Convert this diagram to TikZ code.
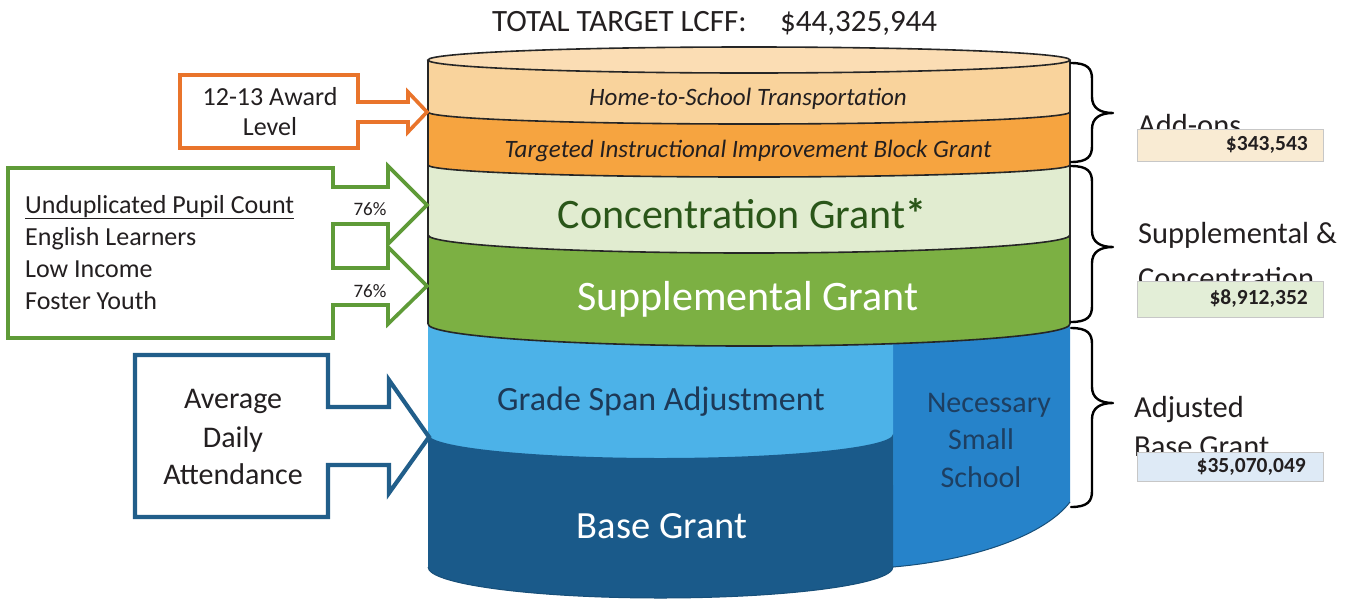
\documentclass[tikz,border=0pt]{standalone}
\usepackage{fontspec}
\setmainfont{Carlito}
\definecolor{topface}{HTML}{FBDDB4}
\definecolor{hts}{HTML}{F9D39C}
\definecolor{tiibg}{HTML}{F6A440}
\definecolor{conc}{HTML}{E1ECD0}
\definecolor{supp}{HTML}{7CB043}
\definecolor{gsa}{HTML}{4CB2E8}
\definecolor{basec}{HTML}{1A5A8A}
\definecolor{nssc}{HTML}{2683CA}
\definecolor{gsatext}{HTML}{1D3957}
\definecolor{conctext}{HTML}{2A5619}
\definecolor{nsstext}{HTML}{1D3F62}
\definecolor{corange}{HTML}{E9742B}
\definecolor{cgreen}{HTML}{5F9B38}
\definecolor{cblue}{HTML}{215E8A}
\definecolor{ink}{HTML}{231F20}
\definecolor{vpeach}{HTML}{F9EBD3}
\definecolor{vgreen}{HTML}{E3EED7}
\definecolor{vblue}{HTML}{DEEAF6}
\newcommand\fsz[1]{\fontsize{#1}{#1}\selectfont}
\newcommand\mybrace[4]{%
  \draw[bracestyle] (1071,-#2) coordinate (#1s)
    .. controls (1088,-#2) and (1092,-#2-6) .. (1092,-#2-16)
    -- (1092,-#3+16) .. controls (1092,-#3+5) and (1100,-#3) .. (1113,-#3) coordinate (#1t)
    .. controls (1100,-#3) and (1092,-#3-5) .. (1092,-#3-16)
    -- (1092,-#4+16) .. controls (1092,-#4+6) and (1088,-#4) .. (1071,-#4) coordinate (#1e);}
\begin{document}
\begin{tikzpicture}[x=1pt,y=1pt,
  edge/.style={draw=black!85, line width=1.6pt},
  bracestyle/.style={draw=black, line width=2.4pt, line cap=round, line join=round},
  callout/.style={fill=white, line width=3.6pt, line join=miter},
  lbl/.style={text=ink, inner sep=0pt},
  vbox/.style={draw=black!22, line width=1pt, inner sep=0pt, anchor=north west, minimum width=186pt},
  vtxt/.style={text=ink, inner sep=0pt, anchor=east, font=\fsz{21.5}\bfseries}]
\useasboundingbox (0,0) rectangle (1348,-600);

% ---- title
\node[lbl, anchor=base west, font=\fsz{31}] (title) at (492,-31) {TOTAL TARGET LCFF:};
\node[lbl, anchor=base west, font=\fsz{31}] (total) at (780,-31) {\$44,325,944};

% ---- lower blue part
\fill[nssc] (428,-324) arc[start angle=180,end angle=360,x radius=321pt,y radius=22pt]
  -- (1070,-502) .. controls (1045,-535) and (975,-560) .. (893,-567) -- (428,-567) -- cycle;
\begin{scope}
  \clip (428,0) rectangle (893,-600);
  \fill[gsa] (428,-324) arc[start angle=180,end angle=360,x radius=321pt,y radius=22pt]
    -- (1070,-485) -- (428,-485) -- cycle;
\end{scope}
\fill[basec] (428,-434) arc[start angle=180,end angle=360,x radius=232.5pt,y radius=24pt]
  -- (893,-567) arc[start angle=360,end angle=180,x radius=232.5pt,y radius=31pt] -- cycle;
\draw[black!40!nssc, line width=1pt] (893,-567) arc[start angle=360,end angle=180,x radius=232.5pt,y radius=31pt];
\draw[black!40!nssc, line width=1pt] (1070,-502) .. controls (1045,-535) and (975,-560) .. (893,-567);

% ---- upper bands
\fill[supp] (428,-235) arc[start angle=180,end angle=360,x radius=321pt,y radius=18pt]
  -- (1070,-324) arc[start angle=360,end angle=180,x radius=321pt,y radius=22pt] -- cycle;
\fill[conc] (428,-165) arc[start angle=180,end angle=360,x radius=321pt,y radius=12pt]
  -- (1070,-235) arc[start angle=360,end angle=180,x radius=321pt,y radius=18pt] -- cycle;
\fill[tiibg] (428,-112) arc[start angle=180,end angle=360,x radius=321pt,y radius=12pt]
  -- (1070,-165) arc[start angle=360,end angle=180,x radius=321pt,y radius=12pt] -- cycle;
\fill[hts] (428,-60) arc[start angle=180,end angle=360,x radius=321pt,y radius=13pt]
  -- (1070,-112) arc[start angle=360,end angle=180,x radius=321pt,y radius=12pt] -- cycle;
\fill[topface] (749,-60) ellipse [x radius=321pt, y radius=13pt];

% outlines
\draw[edge] (749,-60) ellipse [x radius=321pt, y radius=13pt];
\draw[edge] (428,-112) arc[start angle=180,end angle=360,x radius=321pt,y radius=12pt];
\draw[edge] (428,-165) arc[start angle=180,end angle=360,x radius=321pt,y radius=12pt];
\draw[edge] (428,-235) arc[start angle=180,end angle=360,x radius=321pt,y radius=18pt];
\draw[edge] (428,-324) arc[start angle=180,end angle=360,x radius=321pt,y radius=22pt];
\draw[edge] (428,-60) -- (428,-324);
\draw[edge] (1070,-60) -- (1070,-324);

% ---- band texts
\node[lbl, anchor=base, font=\fsz{25}\itshape] (htsl) at (748,-105) {Home-to-School Transportation};
\node[lbl, anchor=base, font=\fsz{25}\itshape] (tiibgl) at (748,-157) {Targeted Instructional Improvement Block Grant};
\node[lbl, anchor=base, font=\fsz{42}, text=conctext] (concl) at (742,-228) {Concentration Grant\textbf{*}};
\node[lbl, anchor=base, font=\fsz{42}, text=white] (suppl) at (748,-310) {Supplemental Grant};
\node[lbl, anchor=base, font=\fsz{34}, text=gsatext] (gsal) at (661,-410) {Grade Span Adjustment};
\node[lbl, anchor=base, font=\fsz{38.5}, text=white] (basel) at (662,-538) {Base Grant};
\node[lbl, anchor=base, font=\fsz{30}, text=nsstext] (nss1) at (989,-412) {Necessary};
\node[lbl, anchor=base, font=\fsz{30}, text=nsstext] (nss2) at (981,-449) {Small};
\node[lbl, anchor=base, font=\fsz{30}, text=nsstext] (nss3) at (981,-487) {School};

% ---- callouts
\draw[callout, draw=corange] (358,-102) -- (358,-75) -- (180,-75) -- (180,-148) -- (358,-148)
  -- (358,-122) -- (408,-122) -- (408,-132) -- (427,-112) -- (408,-92) -- (408,-102) -- cycle;
\node[lbl, anchor=base, font=\fsz{26}] (award1) at (270,-105) {12-13 Award};
\node[lbl, anchor=base, font=\fsz{26}] (award2) at (270,-135) {Level};

\draw[callout, draw=cgreen] (333,-187) -- (333,-168) -- (8,-168) -- (8,-338) -- (333,-338)
  -- (333,-305) -- (388,-305) -- (388,-324) -- (427,-286) -- (388,-247) -- (388,-268)
  -- (333,-268) -- (333,-224) -- (388,-224) -- (388,-244) -- (427,-205) -- (388,-166)
  -- (388,-187) -- cycle;
\node[lbl, anchor=base west, font=\fsz{26}] (upc) at (25,-213) {\underline{Unduplicated Pupil Count}};
\node[lbl, anchor=base west, font=\fsz{26}] (el) at (25,-245) {English Learners};
\node[lbl, anchor=base west, font=\fsz{26}] (li) at (25,-277) {Low Income};
\node[lbl, anchor=base west, font=\fsz{26}] (fy) at (25,-309) {Foster Youth};
\node[lbl, anchor=base, font=\fsz{19}] (pct1) at (370,-215) {76\%};
\node[lbl, anchor=base, font=\fsz{19}] (pct2) at (370,-297) {76\%};

\draw[callout, draw=cblue, line width=4.2pt] (328,-407) -- (328,-355) -- (135,-355) -- (135,-517) -- (328,-517)
  -- (328,-465) -- (389,-465) -- (389,-493) -- (429,-437) -- (389,-380) -- (389,-407) -- cycle;
\node[lbl, anchor=base, font=\fsz{30}] (ada1) at (233,-408) {Average};
\node[lbl, anchor=base, font=\fsz{30}] (ada2) at (233,-447) {Daily};
\node[lbl, anchor=base, font=\fsz{30}] (ada3) at (233,-484) {Attendance};

% ---- braces
\mybrace{bra}{63}{113}{162}
\mybrace{brb}{166}{247}{322}
\mybrace{brc}{328}{403}{507}

% ---- right labels and values
\node[lbl, anchor=base west, font=\fsz{30.5}] (addons) at (1138,-135) {Add-ons};
\node[vbox, fill=vpeach, minimum height=32pt] (v1box) at (1137,-129) {};
\node[vtxt] (v1) at (1308,-145) {\$343,543};

\node[lbl, anchor=base west, font=\fsz{30.5}] (sc1) at (1138,-243) {Supplemental \&};
\node[lbl, anchor=base west, font=\fsz{30.5}] (sc2) at (1138,-288) {Concentration};
\node[vbox, fill=vgreen, minimum height=36pt] (v2box) at (1137,-281) {};
\node[vtxt] (v2) at (1308,-299) {\$8,912,352};

\node[lbl, anchor=base west, font=\fsz{30.5}] (adj1) at (1134,-417) {Adjusted};
\node[lbl, anchor=base west, font=\fsz{30.5}] (adj2) at (1134,-456) {Base Grant};
\node[vbox, fill=vblue, minimum height=29pt] (v3box) at (1137,-452) {};
\node[vtxt] (v3) at (1306,-467) {\$35,070,049};
\end{tikzpicture}
\end{document}
